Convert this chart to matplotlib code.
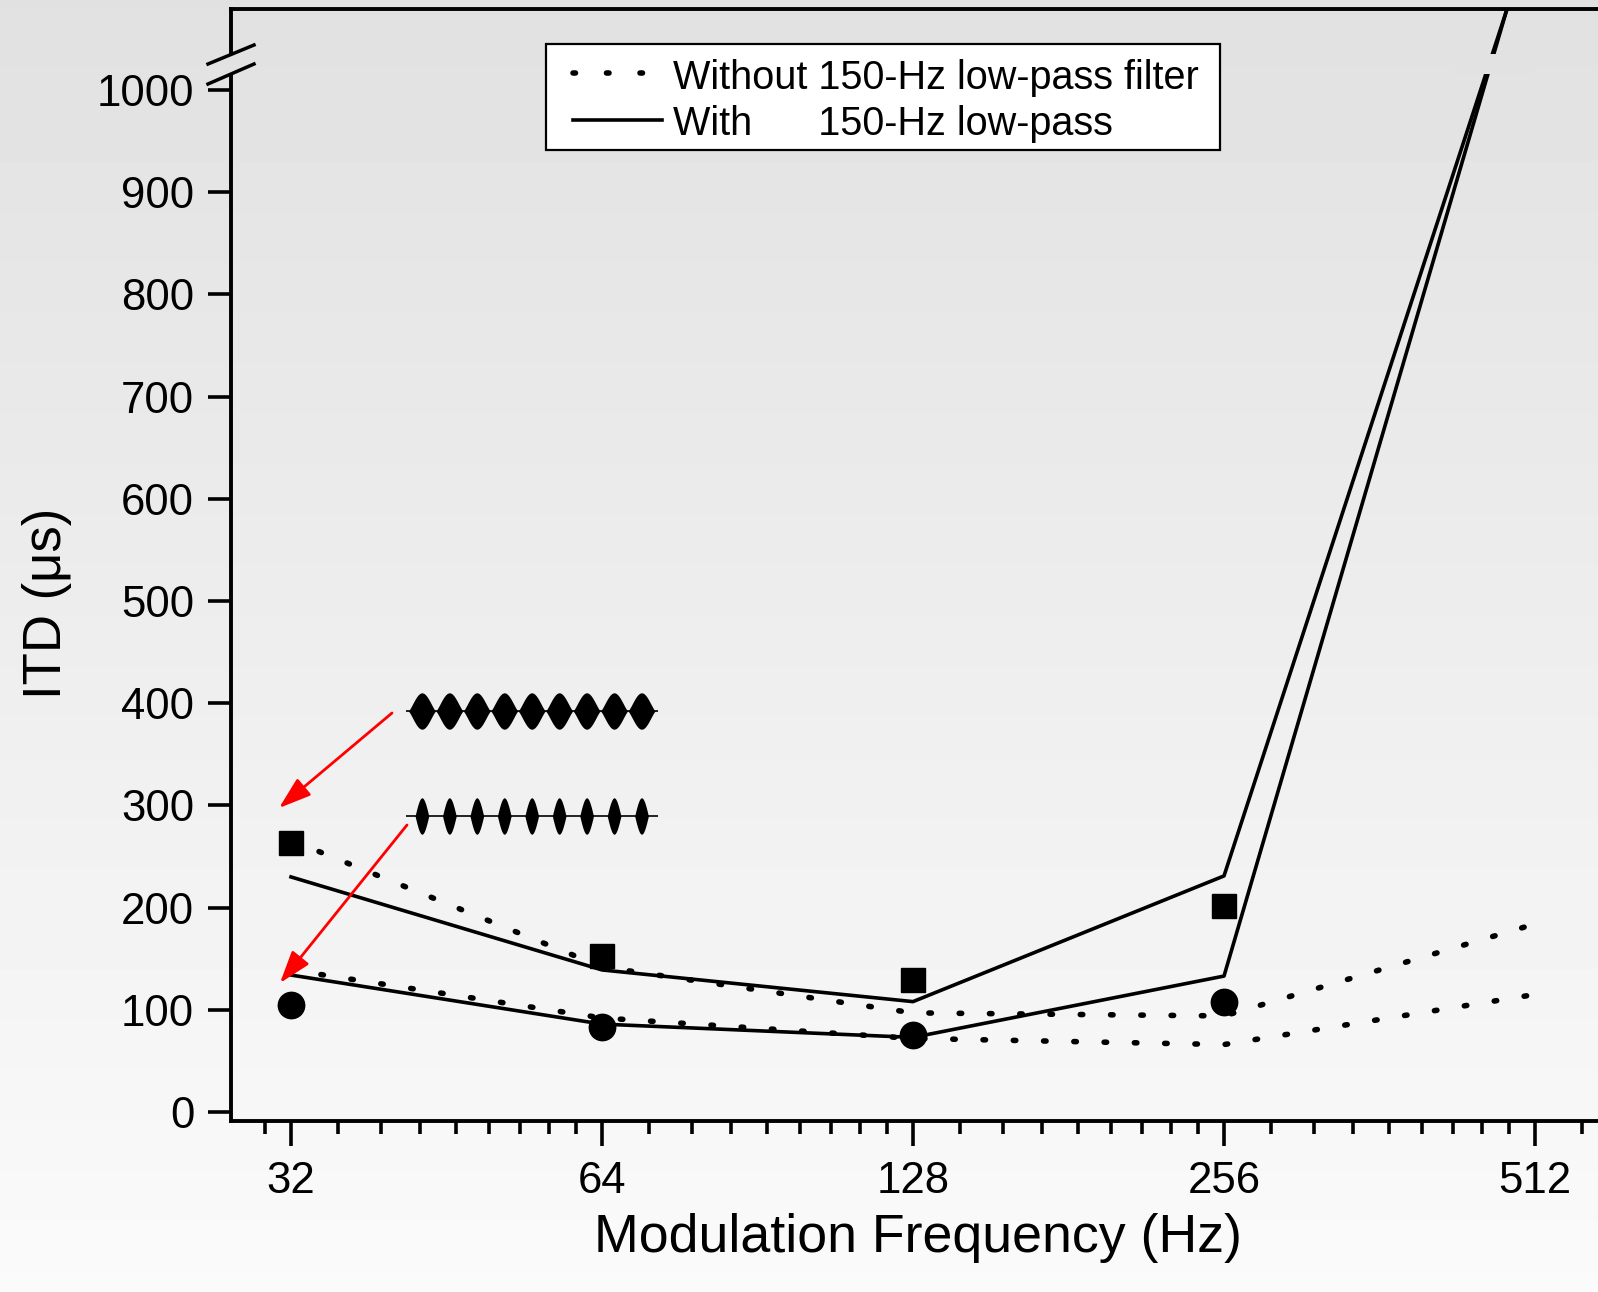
import numpy as np
import matplotlib
matplotlib.use("Agg")
import matplotlib.pyplot as plt
from matplotlib.ticker import FixedLocator, NullFormatter
from matplotlib.lines import Line2D
from matplotlib.patches import Rectangle

plt.rcParams['font.family'] = ['Liberation Sans', 'DejaVu Sans']

# data (ITD in microseconds)
freq = [32, 64, 128, 256, 512]
marker_freq = [32, 64, 128, 256]
square_itd = [263, 153, 129, 202]
circle_itd = [105, 83, 75, 108]
no_filter_upper = [266, 142, 97, 94, 184]
no_filter_lower = [139, 92, 72, 66, 115]
filter_upper = [230, 139, 108, 231, 1163]
filter_lower = [134, 86, 73, 133, 1173]

x_ticks = [32, 64, 128, 256, 512]
y_ticks = [0, 100, 200, 300, 400, 500, 600, 700, 800, 900, 1000]
legend_labels = ["Without 150-Hz low-pass filter", "With      150-Hz low-pass"]

W, H = 1598, 1292


def fx(px):
    return px / W


def fy(py):
    # py counted from the top edge
    return 1 - py / H


def val(py):
    # pixel row -> ITD value
    return (1112 - py) / 1.022


G_TOP, G_BOT = 0.882, 0.982


def bg_color(py):
    g = G_TOP + (G_BOT - G_TOP) * py / H
    return (g, g, g)


fig = plt.figure(figsize=(W / 100, H / 100), dpi=100)

# grey gradient background
bg = fig.add_axes([0, 0, 1, 1], zorder=-10)
grad = np.linspace(G_TOP, G_BOT, 256).reshape(-1, 1)
bg.imshow(grad, cmap='gray', vmin=0, vmax=1, aspect='auto', extent=[0, 1, 0, 1])
bg.axis('off')

ax = fig.add_axes([fx(231), fy(1121), fx(1620 - 231), (1121 - 9) / H])
ax.set_facecolor('none')
ax.set_xscale('log', base=2)
ax.set_xlim(32 * 2 ** (-60 / 311), 32 * 2 ** ((1620 - 291) / 311))
ax.set_ylim(val(1121), val(9))

dot_lw = 4.0
dot_style = (0, (0.45, 5.0))
ax.plot(freq, no_filter_upper, color='k', lw=dot_lw, ls=dot_style, dash_capstyle='round')
ax.plot(freq, no_filter_lower, color='k', lw=dot_lw, ls=dot_style, dash_capstyle='round')
ax.plot(freq, filter_upper, color='k', lw=2.6)
ax.plot(freq, filter_lower, color='k', lw=2.6)
ax.plot(marker_freq, square_itd, 's', color='k', ms=17.5, zorder=4)
ax.plot(marker_freq, circle_itd, 'o', color='k', ms=19, zorder=4)

# gap where the lines cross the axis break
ax.add_patch(Rectangle((fx(1455), fy(74)), fx(80), 20 / H, transform=fig.transFigure,
                       facecolor=bg_color(64), edgecolor='none', zorder=6, clip_on=False))

ax.set_xticks(x_ticks)
ax.set_xticklabels([str(v) for v in x_ticks])
minor = []
for k in range(4, 10):
    for j in range(1, 9):
        m = 2 ** k * (1 + j / 9)
        if m > 30:
            minor.append(m)
ax.xaxis.set_minor_locator(FixedLocator(minor))
ax.xaxis.set_minor_formatter(NullFormatter())
ax.set_yticks(y_ticks)
ax.yaxis.set_minor_locator(FixedLocator([]))

ax.tick_params(axis='x', which='major', direction='out', length=18, width=2.6, labelsize=31.5, pad=11)
ax.tick_params(axis='x', which='minor', direction='out', length=9, width=2.6)
ax.tick_params(axis='y', which='major', direction='out', length=16.5, width=2.6, labelsize=31.5, pad=10)

for s in ['top', 'bottom', 'left']:
    ax.spines[s].set_linewidth(2.8)
ax.spines['right'].set_visible(False)
ax.spines['left'].set_bounds(val(1121), val(76))
fig.add_artist(Line2D([fx(231), fx(231)], [fy(9), fy(53)], color='k', lw=2.8))

# axis break marks
fig.add_artist(Line2D([fx(208), fx(254)], [fy(64), fy(45)], color='k', lw=2.5))
fig.add_artist(Line2D([fx(208), fx(254)], [fy(84), fy(64)], color='k', lw=2.5))

# legend box drawn by hand (Origin-style padding)
fig.add_artist(Rectangle((fx(546), fy(150)), fx(1220 - 546), 106 / H, transform=fig.transFigure,
                         facecolor='white', edgecolor='k', lw=1.6, zorder=7))
fig.add_artist(Line2D([fx(573), fx(643)], [fy(73), fy(73)], color='k', lw=dot_lw,
                      ls=(0, (0.45, 5.58)), dash_capstyle='round', zorder=8))
fig.add_artist(Line2D([fx(573), fx(662)], [fy(120), fy(120)], color='k', lw=2.6, zorder=8))
fig.text(fx(673), fy(89), legend_labels[0], fontsize=28.5, va='baseline', ha='left', zorder=9)
fig.text(fx(673), fy(135), legend_labels[1], fontsize=28.5, va='baseline', ha='left', zorder=9)

# stimulus sketches
n_lobes = 9
t = np.linspace(0, n_lobes, 3000)
sam_env = np.abs(np.sin(np.pi * t)) ** 1.3
trans_env = np.clip(np.sin(2 * np.pi * (t - 0.25)), 0, None)
for yc, env in [(711, sam_env), (816, trans_env)]:
    ins = fig.add_axes([fx(406), fy(yc + 20), fx(252), 40 / H])
    ins.fill_between(t, -env, env, color='k', lw=0)
    ins.plot([-0.08, n_lobes + 0.1], [0, 0], color='k', lw=1.2)
    ins.set_xlim(-0.08, n_lobes + 0.1)
    ins.set_ylim(-1.1, 1.1)
    ins.axis('off')

arrow = dict(arrowstyle='-|>,head_length=0.9,head_width=0.3', color='red', lw=2.0,
             shrinkA=0, shrinkB=0, mutation_scale=22)
ax.annotate('', xy=(279, H - 808), xycoords='figure pixels',
            xytext=(392, H - 713), textcoords='figure pixels', arrowprops=arrow)
ax.annotate('', xy=(280, H - 983), xycoords='figure pixels',
            xytext=(407, H - 825), textcoords='figure pixels', arrowprops=arrow)

fig.text(fx(918), fy(1238), "Modulation Frequency (Hz)", fontsize=38.7, ha='center', va='center')
fig.text(fx(47), fy(603), "ITD (μs)", fontsize=38, rotation=90, ha='center', va='center')

fig.savefig("out.png", dpi=100)
